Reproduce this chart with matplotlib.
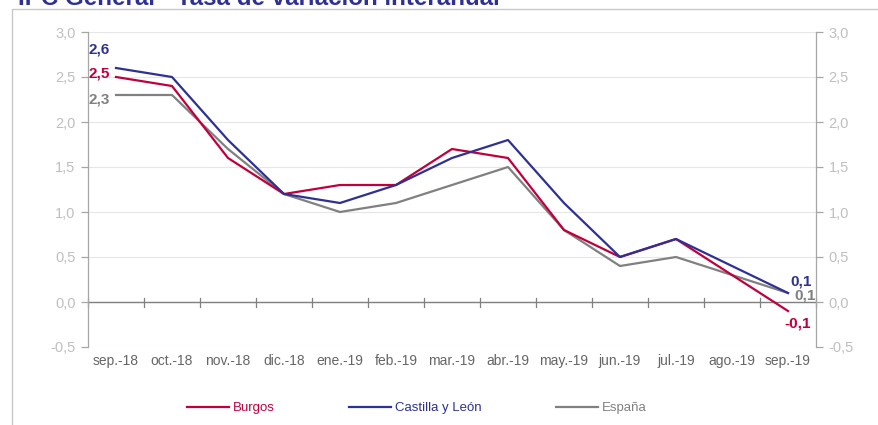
import matplotlib
matplotlib.use("Agg")
import matplotlib.pyplot as plt
from matplotlib.patches import Rectangle
import numpy as np

meses = ["sep.-18", "oct.-18", "nov.-18", "dic.-18", "ene.-19", "feb.-19", "mar.-19",
         "abr.-19", "may.-19", "jun.-19", "jul.-19", "ago.-19", "sep.-19"]
burgos = [2.5, 2.4, 1.6, 1.2, 1.3, 1.3, 1.7, 1.6, 0.8, 0.5, 0.7, 0.3, -0.1]
castilla_leon = [2.6, 2.5, 1.8, 1.2, 1.1, 1.3, 1.6, 1.8, 1.1, 0.5, 0.7, 0.4, 0.1]
espana = [2.3, 2.3, 1.7, 1.2, 1.0, 1.1, 1.3, 1.5, 0.8, 0.4, 0.5, 0.3, 0.1]
y_ticks = [-0.5, 0.0, 0.5, 1.0, 1.5, 2.0, 2.5, 3.0]

C_BURGOS = "#C0003C"
C_CYL = "#2E3192"
C_ESP = "#808080"
C_TICK = "#BFBFBF"
C_XLAB = "#666666"
C_AXIS = "#A6A6A6"

plt.rcParams["font.family"] = ["Liberation Sans", "DejaVu Sans"]

fig = plt.figure(figsize=(8.79, 4.25), dpi=100)

# outer chart-area frame
fig.patches.append(Rectangle((12 / 879, -0.1), 1.2, 1 - 9 / 425 + 0.1,
                             transform=fig.transFigure, fill=False,
                             edgecolor="#C8C8C8", linewidth=1.0))

fig.text(18 / 879, 1.0 - 5 / 425, "IPC General - Tasa de variación interanual",
         color=C_CYL, fontsize=17.4, fontweight="bold", ha="left", va="baseline")

ax = fig.add_axes([88 / 879, 1 - 347 / 425, 728 / 879, 315 / 425])
x = np.arange(len(meses))

ax.plot(x, burgos, color=C_BURGOS, lw=1.6, label="Burgos", zorder=3)
ax.plot(x, castilla_leon, color=C_CYL, lw=1.6, label="Castilla y León", zorder=3)
ax.plot(x, espana, color=C_ESP, lw=1.6, label="España", zorder=2)

ax.set_xlim(-0.5, len(meses) - 0.5)
ax.set_ylim(-0.5, 3.0)

for v in y_ticks:
    ax.axhline(v, color="#E6E6E6", lw=0.8, zorder=0)
ax.axhline(0, color="#808080", lw=1.0, zorder=1)

# category boundary ticks on the zero line
for b in np.arange(-0.5, len(meses) + 0.5, 1.0):
    ax.plot([b, b], [-0.05, 0.05], color="#808080", lw=0.9, zorder=1, clip_on=False)

for s in ["top", "bottom"]:
    ax.spines[s].set_visible(False)
for s in ["left", "right"]:
    ax.spines[s].set_color(C_AXIS)
    ax.spines[s].set_linewidth(0.9)

fmt = [f"{v:.1f}".replace(".", ",") for v in y_ticks]
ax.set_yticks(y_ticks)
ax.set_yticklabels(fmt)
ax.tick_params(axis="y", which="both", left=True, right=True, labelleft=True,
               labelright=True, colors=C_AXIS, labelcolor=C_TICK, labelsize=10.5,
               length=5, width=0.9, pad=4)

ax.set_xticks(x)
ax.set_xticklabels(meses)
ax.tick_params(axis="x", length=0, labelsize=10, labelcolor=C_XLAB, pad=5)

lbl = dict(fontsize=11, fontweight="bold", ha="left", va="center",
           textcoords="offset pixels")


def fmt_val(v):
    return f"{v:.1f}".replace(".", ",")


ax.annotate(fmt_val(castilla_leon[0]), (x[0], castilla_leon[0]), xytext=(-27, 19),
            color=C_CYL, **lbl)
ax.annotate(fmt_val(burgos[0]), (x[0], burgos[0]), xytext=(-27, 3),
            color=C_BURGOS, **lbl)
ax.annotate(fmt_val(espana[0]), (x[0], espana[0]), xytext=(-27, -4),
            color=C_ESP, **lbl)

ax.annotate(fmt_val(castilla_leon[-1]), (x[-1], castilla_leon[-1]), xytext=(2, 12),
            color=C_CYL, **lbl)
ax.annotate(fmt_val(espana[-1]), (x[-1], espana[-1]), xytext=(6, -3),
            color=C_ESP, **lbl)
ax.annotate(fmt_val(burgos[-1]), (x[-1], burgos[-1]), xytext=(-4, -12),
            color=C_BURGOS, **lbl)

leg = fig.legend(loc="center left", bbox_to_anchor=(175 / 879, 1 - 408 / 425), ncol=3,
                 frameon=False, fontsize=9.5, handlelength=3.2, handletextpad=0.3,
                 columnspacing=5.6, labelcolor="linecolor")

fig.savefig("out.png", dpi=100)
